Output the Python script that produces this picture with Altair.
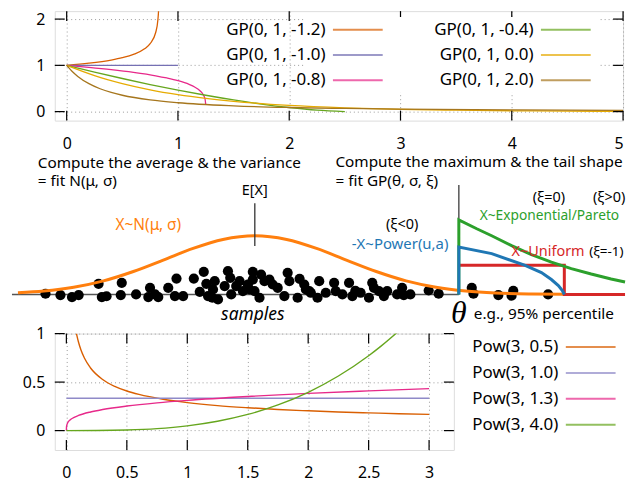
import altair as alt
import pandas as pd

FONT = "Noto Sans"

# ---------------- top panel: GP(0, 1, xi) densities ----------------
gp_names = ["GP(0, 1, -1.2)", "GP(0, 1, -1.0)", "GP(0, 1, -0.8)",
            "GP(0, 1, -0.4)", "GP(0, 1, 0.0)", "GP(0, 1, 2.0)"]
gp_x = {
    "GP(0, 1, -1.2)": [0, 0.2, 0.4, 0.5, 0.6, 0.7, 0.75, 0.8, 0.82, 0.825, 0.83],
    "GP(0, 1, -1.0)": [0, 1],
    "GP(0, 1, -0.8)": [0, 0.2, 0.4, 0.6, 0.8, 0.9, 1.0, 1.1, 1.15, 1.2, 1.225, 1.24, 1.245, 1.2495],
    "GP(0, 1, -0.4)": [0, 0.25, 0.5, 0.75, 1.0, 1.25, 1.5, 1.75, 2.0, 2.25, 2.5],
    "GP(0, 1, 0.0)": [0, 0.25, 0.5, 0.75, 1.0, 1.25, 1.5, 2.0, 2.5, 3.0, 3.5, 4.0, 4.5, 5.0],
    "GP(0, 1, 2.0)": [0, 0.05, 0.1, 0.2, 0.3, 0.4, 0.5, 0.75, 1.0, 1.5, 2.0, 2.5, 3.0, 4.0, 5.0],
}
gp_y = {
    "GP(0, 1, -1.2)": [1, 1.047, 1.115, 1.165, 1.236, 1.357, 1.468, 1.71, 1.992, 2.155, 2.51],
    "GP(0, 1, -1.0)": [1, 1],
    "GP(0, 1, -0.8)": [1, 0.957, 0.908, 0.849, 0.775, 0.727, 0.669, 0.589, 0.532, 0.447, 0.376, 0.299, 0.251, 0.15],
    "GP(0, 1, -0.4)": [1, 0.854, 0.716, 0.586, 0.465, 0.354, 0.253, 0.164, 0.0894, 0.0316, 0.0],
    "GP(0, 1, 0.0)": [1, 0.779, 0.607, 0.472, 0.368, 0.287, 0.223, 0.135, 0.082, 0.0498, 0.0302, 0.0183, 0.0111, 0.0067],
    "GP(0, 1, 2.0)": [1, 0.867, 0.761, 0.604, 0.494, 0.414, 0.354, 0.253, 0.192, 0.125, 0.0894, 0.068, 0.054, 0.037, 0.0274],
}
gp_colors = ["#d95f02", "#7570b3", "#e7298a", "#66a61e", "#e6ab02", "#a6761d"]
top_xticks = [0, 1, 2, 3, 4, 5]
top_yticks = [0, 1, 2]

# ---------------- bottom panel: Pow(3, a) densities ----------------
pw_names = ["Pow(3, 0.5)", "Pow(3, 1.0)", "Pow(3, 1.3)", "Pow(3, 4.0)"]
pw_x = {
    "Pow(3, 0.5)": [0.0833, 0.1, 0.12, 0.15, 0.2, 0.3, 0.4, 0.5, 0.6, 0.8, 1.0, 1.25, 1.5, 1.75, 2.0, 2.25, 2.5, 2.75, 3.0],
    "Pow(3, 1.0)": [0, 3],
    "Pow(3, 1.3)": [0, 0.001, 0.01, 0.03, 0.06, 0.1, 0.2, 0.3, 0.5, 0.75, 1.0, 1.5, 2.0, 2.5, 3.0],
    "Pow(3, 4.0)": [0, 0.25, 0.5, 0.75, 1.0, 1.25, 1.5, 1.75, 2.0, 2.25, 2.5, 2.6, 2.75],
}
pw_y = {
    "Pow(3, 0.5)": [1.0, 0.913, 0.833, 0.745, 0.645, 0.527, 0.456, 0.408, 0.373, 0.323, 0.289, 0.258, 0.236, 0.218, 0.204, 0.192, 0.183, 0.174, 0.167],
    "Pow(3, 1.0)": [0.333, 0.333],
    "Pow(3, 1.3)": [0, 0.039, 0.078, 0.109, 0.134, 0.156, 0.192, 0.217, 0.253, 0.286, 0.312, 0.352, 0.384, 0.410, 0.433],
    "Pow(3, 4.0)": [0, 0.0008, 0.0062, 0.0208, 0.0494, 0.0965, 0.1667, 0.2647, 0.395, 0.5625, 0.7716, 0.868, 1.027],
}
pw_colors = ["#d95f02", "#8f8ac8", "#e7298a", "#66a61e"]
bot_xticks = [0, 0.5, 1, 1.5, 2, 2.5, 3]
bot_yticks = [0, 0.5, 1]

# ---------------- middle sketch (units: pixels, h = height above baseline) ----------------
dots_x = [41.7, 56.7, 68.3, 75, 95, 98.3, 103, 118.3, 117.3, 132.7, 146.7, 145, 151.7, 155,
          165, 171.7, 173.3, 180, 190.7, 200.7, 196.7, 203.3, 205, 211.7, 210, 215, 209.3,
          225, 227.3, 221.7, 228.3, 233.3, 236.7, 240, 245, 250, 250, 246.7, 251.7, 256.7,
          258.3, 261.7, 266.7, 270, 275, 281.7, 285, 286.7, 297, 295, 306.7, 301.7,
          303.3, 308.3, 316.7, 315, 323.3, 331.7, 333.3, 340, 346.7, 350, 353, 358.3, 366.7,
          370, 371.7, 376.7, 381.7, 385, 395, 400, 401.7, 408.3, 426.7, 436.7,
          470, 471.7, 496.7, 511.7, 510, 546.7]
dots_h = [0.7, -0.6, -2.6, -0.6, 10.7, -2.6, -1.8, 11.7, -0.6, 0, 6.7, -2.6, 0, -2.6,
          6.7, -1.6, 16, -1.6, 16, 22.7, 2.7, 10.7, -1.6, 13.4, 5, -5, -3.3,
          23.4, 16.7, 8.4, 0, 8.4, 13.4, 3.4, 10, 22.7, 15, 5, 3.4, -3.3,
          20, 13.4, 15, 10, 6.7, -1.6, 21.7, 13.4, 15.7, -3.3, 3.4, 10,
          5, 1.7, 13.4, -3.3, 1.7, 11.7, 3.4, 0, 11.7, -1.6, 3.7, 1.7, -3.3,
          11.7, 6.7, 3.4, -1.6, 3.4, 0, 6.7, -0.6, 0, 4, 0.7,
          6.7, 0.7, -0.6, 3.7, -1.3, 0]
normal_x = [14, 40, 70, 100, 130, 160, 190, 220, 252, 284, 314, 344, 374, 404, 434, 464, 494, 530, 563]
normal_h = [1.65, 3.46, 7.29, 13.7, 23.1, 34.6, 46.3, 55.3, 59, 55.3, 46.3, 34.6, 23.1, 13.7, 7.29, 3.46, 1.46, 0.45, 0.1]
base_x = [8, 457]
base_h = [0, 0]
ex_x = [252]; ex_h0 = [48.7]; ex_h1 = [91.7]
theta_x = [457]; theta_h0 = [0]; theta_h1 = [110]
expo_x = [457, 457, 475, 490, 510, 530, 550, 570, 590, 610, 624]
expo_h = [0, 75, 66, 59, 49, 40, 32.5, 26, 20.5, 15.5, 12.5]
power_x = [457, 457, 490, 523, 540, 550, 557, 561, 563]
power_h = [0, 47.7, 41, 29.5, 22, 15, 9, 4, 0]
unif_x = [457, 563, 563, 624]
unif_h = [29.4, 29.4, 0, 0]

note_left_text = ["Compute the average & the variance", "= fit N(μ, σ)",
                  "Compute the maximum & the tail shape", "= fit GP(θ, σ, ξ)",
                  "e.g., 95% percentile"]
note_left_x = [34, 34, 333, 333, 472]
note_left_h = [132.4, 113.7, 132.7, 113.7, -19.3]
note_mid_text = ["E[X]", "(ξ=0)", "(ξ>0)", "(ξ<0)"]
note_mid_x = [252, 547.5, 608, 400]
note_mid_h = [103.7, 96.7, 96.7, 70]

W1, H1 = 571, 110
H2 = 214
W3, H3 = 401, 117

grid_kw = dict(grid=True, gridDash=[1, 3], gridColor="#9a9a9a", gridWidth=1,
               domain=False, ticks=False, labelFontSize=16, labelColor="black",
               labelFont=FONT, title=None)


def top_x(f):
    return alt.X(f"{f}:Q", scale=alt.Scale(domain=[-0.107, 5.0], nice=False, zero=False),
                 axis=alt.Axis(values=top_xticks, labelPadding=15, **grid_kw))


def top_y(f):
    return alt.Y(f"{f}:Q", scale=alt.Scale(domain=[-0.194, 2.172], nice=False, zero=False),
                 axis=alt.Axis(values=top_yticks, labelPadding=10, **grid_kw))


def bot_x(f):
    return alt.X(f"{f}:Q", scale=alt.Scale(domain=[-0.096, 3.205], nice=False, zero=False),
                 axis=alt.Axis(values=bot_xticks, format="~g", labelPadding=15, **grid_kw))


def bot_y(f):
    return alt.Y(f"{f}:Q", scale=alt.Scale(domain=[-0.2, 1.0], nice=False, zero=False),
                 axis=alt.Axis(values=bot_yticks, format="~g", labelPadding=10, **grid_kw))


def inward_ticks(xvals, yvals, w, h, xe, ye, L=10):
    dx = pd.DataFrame({"tv": xvals})
    dy = pd.DataFrame({"tv": yvals})
    r = dict(color="black", strokeWidth=1.2)
    return [
        alt.Chart(dx).mark_rule(**r).encode(x=xe("tv"), y=alt.value(h), y2=alt.value(h - L)),
        alt.Chart(dx).mark_rule(**r).encode(x=xe("tv"), y=alt.value(0), y2=alt.value(L)),
        alt.Chart(dy).mark_rule(**r).encode(y=ye("tv"), x=alt.value(0), x2=alt.value(L)),
        alt.Chart(dy).mark_rule(**r).encode(y=ye("tv"), x=alt.value(w), x2=alt.value(w - L)),
    ]


# line sample drawn to the right of its (right-aligned) label, as gnuplot keys do
KEY_SAMPLE = "M3.2,0L13.2,0"


def legend_kw(x, y, cols, rowpad):
    return dict(title=None, orient="none", legendX=x, legendY=y, columns=cols,
                symbolType=KEY_SAMPLE, symbolSize=100, symbolStrokeWidth=2, symbolOpacity=0.7,
                labelFontSize=17, labelFont=FONT, labelColor="black",
                labelAlign="right", labelOffset=0, symbolOffset=0,
                rowPadding=rowpad, columnPadding=47, fillColor="white", padding=4)


# ---- top chart ----
gp_rows = []
for n in gp_names:
    for xv, yv in zip(gp_x[n], gp_y[n]):
        gp_rows.append({"series": n, "x": xv, "y": yv})
gp_df = pd.DataFrame(gp_rows)
top_lines = alt.Chart(gp_df).mark_line(strokeWidth=1.3, clip=True, interpolate="monotone").encode(
    x=top_x("x"), y=top_y("y"),
    color=alt.Color("series:N", scale=alt.Scale(domain=gp_names, range=gp_colors),
                    legend=alt.Legend(**legend_kw(251, 6, 2, 7.5))),
)
top = alt.layer(top_lines, *inward_ticks(top_xticks, top_yticks, W1, H1, top_x, top_y)).properties(
    width=W1, height=H1)

# ---- middle chart ----
def mx():
    return alt.X("x:Q", scale=alt.Scale(domain=[51, 622], nice=False, zero=False), axis=None)


def my(f="h"):
    return alt.Y(f"{f}:Q", scale=alt.Scale(domain=[-39.3, 174.7], nice=False, zero=False), axis=None)


def seq_df(xs, hs):
    return pd.DataFrame({"x": xs, "h": hs, "i": list(range(len(xs)))})


def note(text, x, h, color="black", size=15.4, align="center", **kw):
    return alt.Chart(pd.DataFrame({"t": text, "x": x, "h": h})).mark_text(
        align=align, baseline="middle", fontSize=size, font=kw.pop("font", FONT), color=color, **kw
    ).encode(x=mx(), y=my(), text="t:N")


mid_layers = [
    alt.Chart(seq_df(base_x, base_h)).mark_line(color="#555555", strokeWidth=1.5).encode(x=mx(), y=my()),
    alt.Chart(pd.DataFrame({"x": dots_x, "h": dots_h})).mark_circle(size=105, color="black", opacity=1).encode(x=mx(), y=my()),
    alt.Chart(seq_df(normal_x, normal_h)).mark_line(color="#ff7f0e", strokeWidth=3, interpolate="monotone").encode(x=mx(), y=my()),
    alt.Chart(pd.DataFrame({"x": ex_x, "h": ex_h0, "h2": ex_h1})).mark_rule(color="#333333", strokeWidth=1.3).encode(x=mx(), y=my(), y2="h2:Q"),
    alt.Chart(pd.DataFrame({"x": theta_x, "h": theta_h0, "h2": theta_h1})).mark_rule(color="#555555", strokeWidth=1.5).encode(x=mx(), y=my(), y2="h2:Q"),
    alt.Chart(seq_df(unif_x, unif_h)).mark_line(color="#d62728", strokeWidth=3).encode(x=mx(), y=my(), order="i:Q"),
    alt.Chart(seq_df(expo_x, expo_h)).mark_line(color="#2ca02c", strokeWidth=3, interpolate="linear").encode(x=mx(), y=my(), order="i:Q"),
    alt.Chart(seq_df(power_x, power_h)).mark_line(color="#1f77b4", strokeWidth=3).encode(x=mx(), y=my(), order="i:Q"),
    note(note_left_text, note_left_x, note_left_h, align="left"),
    note(note_mid_text, note_mid_x, note_mid_h, size=14.5),
    note(["(ξ=-1)"], [588], [42.7], align="left", size=13.5),
    note(["X~N(μ, σ)"], [145], [69.7], color="#ff7f0e", size=15.5),
    note(["X~Exponential/Pareto"], [478], [78.4], color="#2ca02c", align="left", size=13.8),
    note(["-X~Power(u,a)"], [398], [50.5], color="#1f77b4", size=15),
    note(["X~Uniform"], [510], [42.7], color="#d62728", align="left", size=14.5),
    note(["samples"], [250], [-20.3], size=17.5, fontStyle="italic"),
    note(["θ"], [457], [-19], size=32, font="Liberation Serif", fontStyle="italic"),
]
mid = alt.layer(*mid_layers).properties(width=W1, height=H2,
                                        view=alt.ViewBackground(stroke="transparent"))

# ---- bottom chart ----
pw_rows = []
for n in pw_names:
    for xv, yv in zip(pw_x[n], pw_y[n]):
        pw_rows.append({"series": n, "x": xv, "y": yv})
pw_df = pd.DataFrame(pw_rows)
bot_lines = alt.Chart(pw_df).mark_line(strokeWidth=1.4, clip=True, interpolate="monotone").encode(
    x=bot_x("x"), y=bot_y("y"),
    color=alt.Color("series:N", scale=alt.Scale(domain=pw_names, range=pw_colors),
                    legend=alt.Legend(**legend_kw(485, 1, 1, 8))),
)
bot = alt.layer(bot_lines, *inward_ticks(bot_xticks, bot_yticks, W3, H3, bot_x, bot_y)).properties(
    width=W3, height=H3)

chart = alt.vconcat(top, mid, bot, spacing=0, bounds="flush").resolve_scale(
    color="independent"
).properties(padding=0).configure_view(stroke="black", strokeWidth=1.5).configure(font=FONT)

chart.save("out.html", embed_options={"renderer": "svg", "actions": False})
